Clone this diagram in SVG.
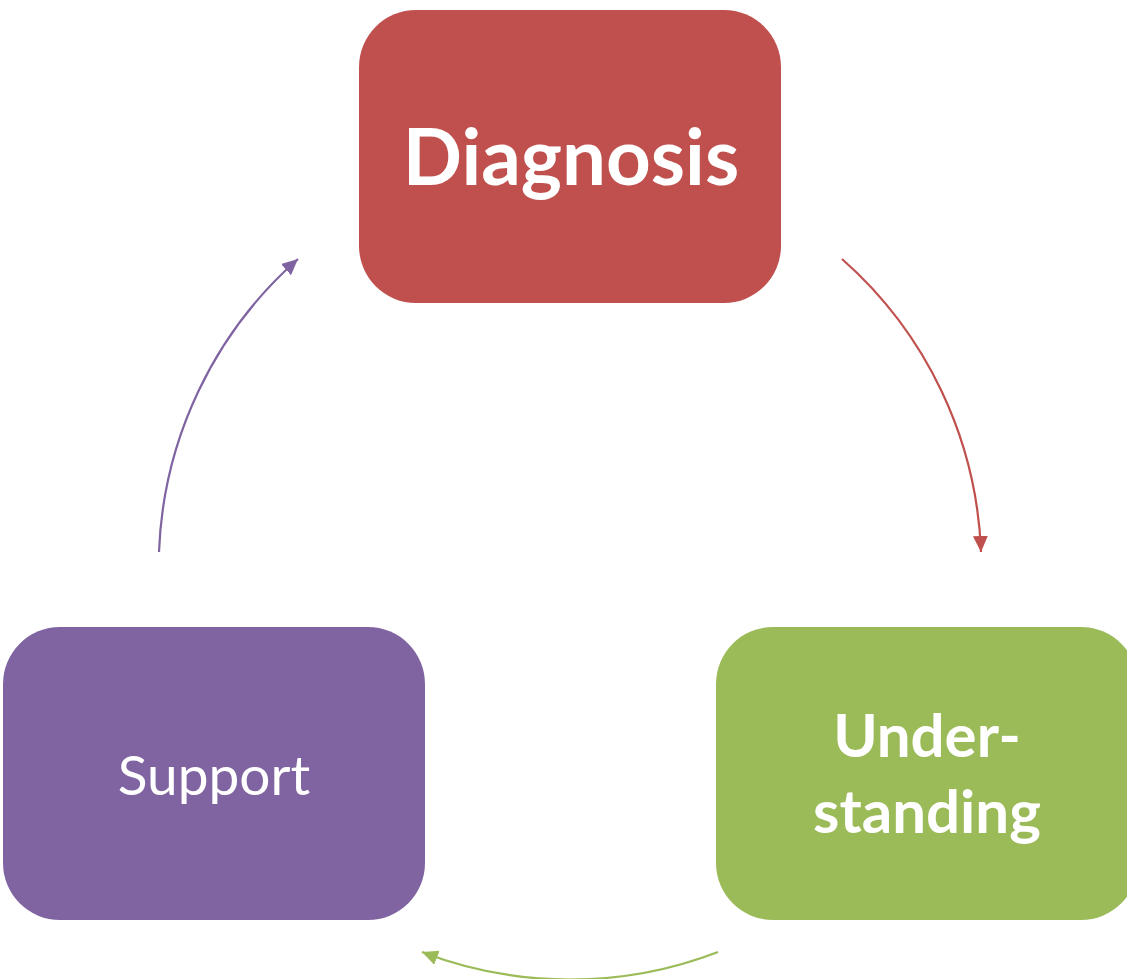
<svg xmlns="http://www.w3.org/2000/svg" width="1127" height="979" viewBox="0 0 1127 979">
  <style>
    .label { fill: #ffffff; font-family: Lato, "Open Sans", sans-serif; text-anchor: middle; }
    .bold { font-weight: 700; }
    .link { fill: none; stroke-width: 2.2; }
  </style>
  <defs>
    <marker id="head-red" markerUnits="userSpaceOnUse" markerWidth="17" markerHeight="16" refX="16" refY="7.5" orient="auto">
      <path d="M0,0 L16,7.5 L0,15 Z" fill="#C0504D"/>
    </marker>
    <marker id="head-green" markerUnits="userSpaceOnUse" markerWidth="17" markerHeight="16" refX="16" refY="7.5" orient="auto">
      <path d="M0,0 L16,7.5 L0,15 Z" fill="#9BBB59"/>
    </marker>
    <marker id="head-purple" markerUnits="userSpaceOnUse" markerWidth="17" markerHeight="16" refX="16" refY="7.5" orient="auto">
      <path d="M0,0 L16,7.5 L0,15 Z" fill="#8064A2"/>
    </marker>
  </defs>
  <rect width="1127" height="979" fill="#ffffff"/>

  <!-- arcs of one circle joining the three steps clockwise -->
  <g id="connectors">
    <path class="link" stroke="#C0504D" marker-end="url(#head-red)" d="M842,259 A411,411 0 0 1 981,552"/>
    <path class="link" stroke="#9BBB59" marker-end="url(#head-green)" d="M718,952 A411,411 0 0 1 422,952"/>
    <path class="link" stroke="#8064A2" marker-end="url(#head-purple)" d="M159,552 A411,411 0 0 1 298,259"/>
  </g>

  <g id="diagnosis">
    <rect x="359" y="10" width="422" height="293" rx="57" ry="57" fill="#C0504D"/>
    <text class="label bold" x="571" y="185" font-size="78">Diagnosis</text>
  </g>

  <g id="understanding">
    <rect x="716" y="627" width="422" height="293" rx="57" ry="57" fill="#9BBB59"/>
    <text class="label bold" x="927" y="757" font-size="60">Under-</text>
    <text class="label bold" x="927" y="833" font-size="60">standing</text>
  </g>

  <g id="support">
    <rect x="3" y="627" width="422" height="293" rx="57" ry="57" fill="#8064A2"/>
    <text class="label" x="214" y="795" font-size="55">Support</text>
  </g>
</svg>
